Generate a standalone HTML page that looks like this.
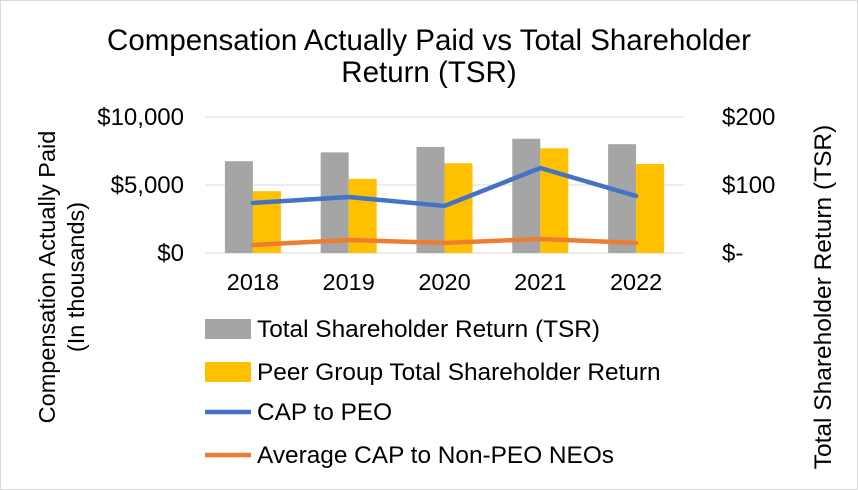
<!DOCTYPE html>
<html><head><meta charset="utf-8"><style>
body{margin:0;background:#fff}
svg{display:block;font-family:"Liberation Sans",Arial,sans-serif}
</style></head><body>
<svg id="c" width="858" height="490">
<rect x="0.5" y="0.5" width="857" height="489" fill="#fff" stroke="#d9d9d9"/>
<text x="429" y="50" font-size="29.5" text-anchor="middle" fill="#000">Compensation Actually Paid vs Total Shareholder</text>
<text x="429" y="82" font-size="29.5" text-anchor="middle" fill="#000">Return (TSR)</text>
<text transform="translate(55,277) rotate(-90)" font-size="23.5" text-anchor="middle">Compensation Actually Paid</text>
<text transform="translate(84,277) rotate(-90)" font-size="23.5" text-anchor="middle">(In thousands)</text>
<text transform="translate(831,297) rotate(-90)" font-size="24.5" text-anchor="middle">Total Shareholder Return (TSR)</text>
<g id="plot"></g>
<g>
<rect x="205" y="319" width="46" height="20" fill="#a5a5a5"/>
<text x="257" y="337" font-size="24.4">Total Shareholder Return (TSR)</text>
<rect x="205" y="362" width="46" height="20" fill="#ffc000"/>
<text x="257" y="380" font-size="24.4">Peer Group Total Shareholder Return</text>
<line x1="205" y1="412" x2="251" y2="412" stroke="#4472c4" stroke-width="4.5"/>
<text x="257" y="420" font-size="24.4">CAP to PEO</text>
<line x1="205" y1="455" x2="251" y2="455" stroke="#ed7d31" stroke-width="4.5"/>
<text x="257" y="463" font-size="24.4">Average CAP to Non-PEO NEOs</text>
</g>
</svg>
<script>
const categories=["2018","2019","2020","2021","2022"];
const tsr=[135,148,156,168,160];
const peer=[91,109,132,154,131];
const capPeo=[3680,4120,3460,6250,4190];
const capNeo=[590,960,740,1030,740];
const leftTicks=[0,5000,10000];
const leftLabels=["$0","$5,000","$10,000"];
const rightTicks=[0,100,200];
const rightLabels=["$-","$100","$200"];
const NS="http://www.w3.org/2000/svg";
const g=document.getElementById("plot");
const x0=205,x1=684,yb=253,yt=117;
const yL=v=>yb-(v/10000)*(yb-yt);
const yR=v=>yb-(v/200)*(yb-yt);
const band=(x1-x0)/categories.length;
const xc=i=>x0+band*(i+0.5);
function mk(t,a){const e=document.createElementNS(NS,t);for(const k in a)e.setAttribute(k,a[k]);g.appendChild(e);return e;}
leftTicks.forEach((v,i)=>{
 const l=mk("line",{x1:x0,x2:x1,y1:yL(v),y2:yL(v),stroke:"#d9d9d9","stroke-width":1});
 
 
 const t=mk("text",{x:184,y:yL(v)+8,"font-size":24,"text-anchor":"end"});t.textContent=leftLabels[i];
 
 
});
rightTicks.forEach((v,i)=>{
 const t=mk("text",{x:722,y:yR(v)+8,"font-size":24});t.textContent=rightLabels[i];
 
 
});
const bw=28;
categories.forEach((c,i)=>{
 const a=mk("rect",{x:xc(i)-bw,y:yR(tsr[i]),width:bw,height:yb-yR(tsr[i]),fill:"#a5a5a5"});
 
 
 const b=mk("rect",{x:xc(i),y:yR(peer[i]),width:bw,height:yb-yR(peer[i]),fill:"#ffc000"});
 
 
 const t=mk("text",{x:xc(i),y:290,"font-size":23.5,"text-anchor":"middle"});t.textContent=c;
 
 
});
const p1=mk("polyline",{points:capPeo.map((v,i)=>xc(i)+","+yL(v)).join(" "),fill:"none",stroke:"#4472c4","stroke-width":4.5,"stroke-linejoin":"round","stroke-linecap":"round"});


const p2=mk("polyline",{points:capNeo.map((v,i)=>xc(i)+","+yL(v)).join(" "),fill:"none",stroke:"#ed7d31","stroke-width":4.5,"stroke-linejoin":"round","stroke-linecap":"round"});


</script>
</body></html>
